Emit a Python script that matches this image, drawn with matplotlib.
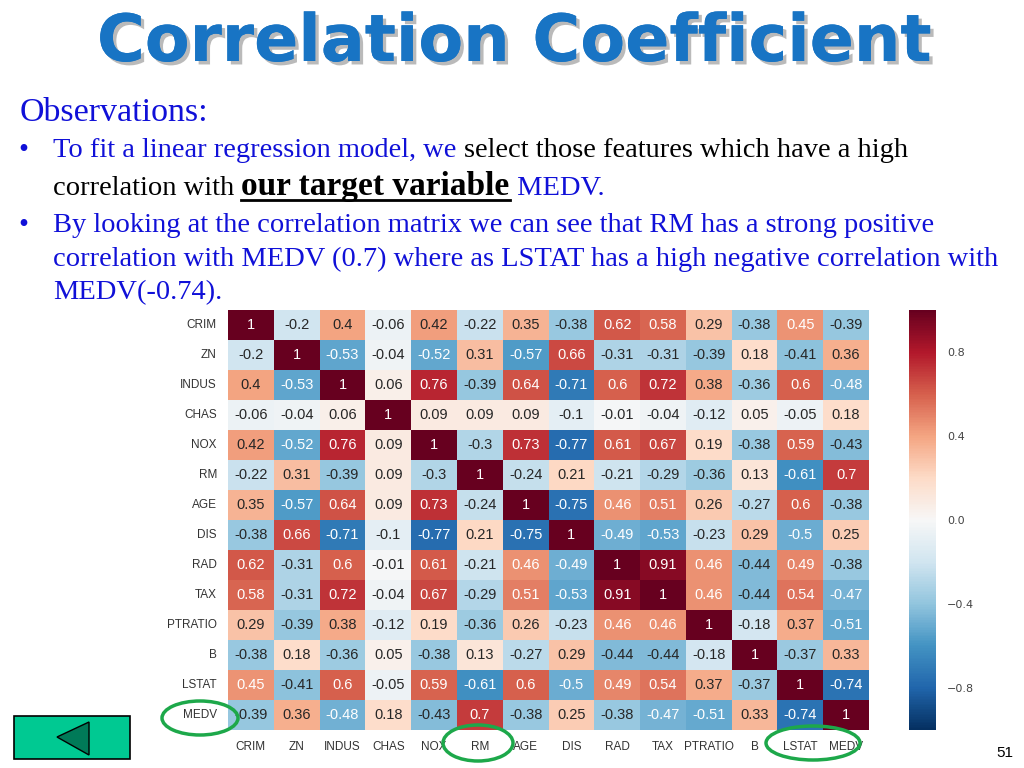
import numpy as np
import pandas as pd
import matplotlib
matplotlib.use("Agg")
import matplotlib.pyplot as plt
import matplotlib.patheffects as pe
from matplotlib.patches import Ellipse, Rectangle, Polygon
import seaborn as sns

# Correlation matrix (Boston housing)
features = ["CRIM", "ZN", "INDUS", "CHAS", "NOX", "RM", "AGE", "DIS",
            "RAD", "TAX", "PTRATIO", "B", "LSTAT", "MEDV"]
crim = [1, -0.2, 0.4, -0.06, 0.42, -0.22, 0.35, -0.38, 0.62, 0.58, 0.29, -0.38, 0.45, -0.39]
zn = [-0.2, 1, -0.53, -0.04, -0.52, 0.31, -0.57, 0.66, -0.31, -0.31, -0.39, 0.18, -0.41, 0.36]
indus = [0.4, -0.53, 1, 0.06, 0.76, -0.39, 0.64, -0.71, 0.6, 0.72, 0.38, -0.36, 0.6, -0.48]
chas = [-0.06, -0.04, 0.06, 1, 0.09, 0.09, 0.09, -0.1, -0.01, -0.04, -0.12, 0.05, -0.05, 0.18]
nox = [0.42, -0.52, 0.76, 0.09, 1, -0.3, 0.73, -0.77, 0.61, 0.67, 0.19, -0.38, 0.59, -0.43]
rm = [-0.22, 0.31, -0.39, 0.09, -0.3, 1, -0.24, 0.21, -0.21, -0.29, -0.36, 0.13, -0.61, 0.7]
age = [0.35, -0.57, 0.64, 0.09, 0.73, -0.24, 1, -0.75, 0.46, 0.51, 0.26, -0.27, 0.6, -0.38]
dis = [-0.38, 0.66, -0.71, -0.1, -0.77, 0.21, -0.75, 1, -0.49, -0.53, -0.23, 0.29, -0.5, 0.25]
rad = [0.62, -0.31, 0.6, -0.01, 0.61, -0.21, 0.46, -0.49, 1, 0.91, 0.46, -0.44, 0.49, -0.38]
tax = [0.58, -0.31, 0.72, -0.04, 0.67, -0.29, 0.51, -0.53, 0.91, 1, 0.46, -0.44, 0.54, -0.47]
ptratio = [0.29, -0.39, 0.38, -0.12, 0.19, -0.36, 0.26, -0.23, 0.46, 0.46, 1, -0.18, 0.37, -0.51]
b = [-0.38, 0.18, -0.36, 0.05, -0.38, 0.13, -0.27, 0.29, -0.44, -0.44, -0.18, 1, -0.37, 0.33]
lstat = [0.45, -0.41, 0.6, -0.05, 0.59, -0.61, 0.6, -0.5, 0.49, 0.54, 0.37, -0.37, 1, -0.74]
medv = [-0.39, 0.36, -0.48, 0.18, -0.43, 0.7, -0.38, 0.25, -0.38, -0.47, -0.51, 0.33, -0.74, 1]
cbar_ticks = [-0.8, -0.4, 0.0, 0.4, 0.8]

corr = pd.DataFrame([crim, zn, indus, chas, nox, rm, age, dis, rad, tax,
                     ptratio, b, lstat, medv], index=features, columns=features)

W, H = 1024, 768
fig = plt.figure(figsize=(W / 100, H / 100), dpi=100)
fig.patch.set_facecolor("white")


def fx(x):
    return x / W


def fy(y):
    return 1 - y / H


narrow = ["Liberation Sans Narrow", "Liberation Sans", "DejaVu Sans"]

# Heatmap + colorbar
ax = fig.add_axes([fx(228), fy(730), fx(869 - 228), (730 - 310) / H])
cax = fig.add_axes([fx(909), fy(730), fx(27), (730 - 310) / H])
sns.heatmap(corr, ax=ax, cbar_ax=cax, cmap="RdBu_r", vmin=-1, vmax=1,
            annot=True, fmt=".2g",
            annot_kws={"fontsize": 10.5, "family": narrow})
ax.tick_params(length=0, labelsize=8.5, colors="#333333", pad=8)
ax.set_yticklabels(features, rotation=0, family=narrow)
ax.set_xticklabels(features, rotation=0, family=narrow)
cax.set_yticks(cbar_ticks)
cax.tick_params(length=0, labelsize=8, colors="#444444", pad=8)
cbar = ax.collections[0].colorbar
if cbar is not None:
    cbar.outline.set_visible(False)

# Title
fig.text(0.502, fy(43), "Correlation Coefficient", ha="center", va="center",
         fontsize=47, fontweight="bold", color="#1874C4",
         family=["DejaVu Sans"],
         path_effects=[pe.withSimplePatchShadow(offset=(2.5, -2.5), shadow_rgbFace="#777777", alpha=0.5),
                       pe.Normal()])

# Observations text
blue = "#1010D8"
serif = ["Liberation Serif", "DejaVu Serif"]
fs = 20.5
renderer = fig.canvas.get_renderer()


def write_line(x, y, segments):
    for txt, col, kw in segments:
        t = fig.text(fx(x), fy(y), txt, color=col, fontsize=kw.get("size", fs),
                     fontweight=kw.get("weight", "normal"), family=serif,
                     va="baseline", ha="left")
        bb = t.get_window_extent(renderer)
        if kw.get("underline"):
            fig.add_artist(plt.Line2D([fx(x), fx(x + bb.width)], [fy(y + 5), fy(y + 5)],
                                      color="black", lw=2))
        x += bb.width
    return x


write_line(20, 121, [("Observations:", blue, {"size": 24.5})])
fig.text(fx(18), fy(157), "\u2022", color=blue, fontsize=fs, family=serif, va="baseline")
write_line(53, 157, [("To fit a linear regression model, we ", blue, {}),
                     ("select those features which have a high", "black", {})])
write_line(53, 195, [("correlation with ", "black", {}),
                     ("our target variable", "black", {"size": 24, "weight": "bold", "underline": True}),
                     (" MEDV.", blue, {})])
fig.text(fx(18), fy(232), "\u2022", color=blue, fontsize=fs, family=serif, va="baseline")
write_line(53, 232, [("By looking at the correlation matrix we can see that RM has a strong positive", blue, {})])
write_line(53, 266, [("correlation with MEDV (0.7) where as LSTAT has a high negative correlation with", blue, {})])
write_line(53, 299, [("MEDV(-0.74).", blue, {})])

# Green highlight ellipses
green = "#1DA84A"
for cx, cy, w, h in [(200, 718, 76, 34), (478, 743, 70, 36), (813, 743, 94, 34)]:
    fig.add_artist(Ellipse((fx(cx), fy(cy)), fx(w), h / H, fill=False,
                           edgecolor=green, lw=2.5, transform=fig.transFigure))

# Back button
fig.add_artist(Rectangle((fx(14), fy(759)), fx(116), 43 / H, facecolor="#00C992",
                         edgecolor="black", lw=1.2, transform=fig.transFigure))
fig.add_artist(Polygon([(fx(57), fy(737)), (fx(89), fy(722)), (fx(89), fy(755))],
                       closed=True, facecolor="#007A58", edgecolor="black", lw=1,
                       transform=fig.transFigure))

# Page number
fig.text(fx(1005), fy(753), "51", ha="center", va="center", fontsize=11,
         family=["Liberation Sans", "DejaVu Sans"])

fig.savefig("out.png", dpi=100)
